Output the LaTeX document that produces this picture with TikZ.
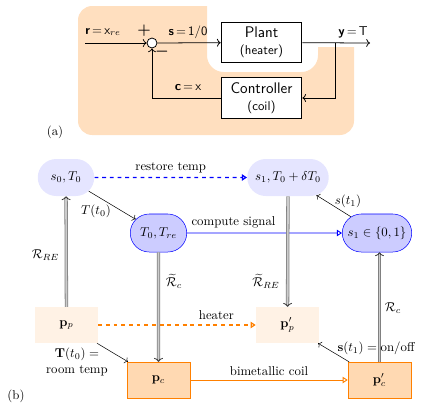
\documentclass[tikz,border=0pt]{standalone}
\usepackage{tikz}
\usetikzlibrary{shapes.misc, arrows.meta}
\usepackage{amsmath}

\begin{document}
\begin{tikzpicture}[
    x=0.78125pt, y=-0.78125pt,
    block/.style={rectangle, draw, line width=0.8pt, fill=white, minimum width=63pt, minimum height=32pt, align=center, font=\sffamily},
    sumnode/.style={circle, draw, line width=0.6pt, fill=white, minimum size=7.8pt, inner sep=0pt},
    signal/.style={font=\sffamily},
    state/.style={rounded rectangle, fill=blue!10, minimum width=50.8pt, minimum height=28.9pt},
    active/.style={state, draw=blue, fill=blue!20, minimum height=29.7pt},
    place/.style={rectangle, fill=orange!10, minimum width=49.2pt, minimum height=28.1pt},
    coilbox/.style={place, draw=orange, fill=orange!30},
    mapto/.style={draw=gray, double=gray!40, double distance=1.4pt, line width=0.6pt, -{To[length=3pt, width=7pt, color=black!80]}},
    opentip/.style={-{Triangle[open, length=4pt, width=5pt]}},
    maplabel/.style={inner sep=1pt}
]
\useasboundingbox (0,0) rectangle (429,409);

% Background of the block diagram
\fill[orange!25] (318,47) -- (354,47) [rounded corners=11pt] -- (354,135) -- (78,135) -- (78,6)
    [sharp corners] -- (207,6) [rounded corners=13pt] -- (207,72) -- (318,72) [sharp corners] -- cycle;

% Block diagram (a)
\node[sumnode] (sum) at (152,43) {};
\node[block] (plant) at (261.5,42.5) {\large Plant\\[1pt](heater)};
\node[block] (ctrl) at (261.5,98) {\large Controller\\[1pt](coil)};
\coordinate (input) at (85,43);
\coordinate (branch) at (335,43);
\coordinate (output) at (370,43);

\draw[line width=0.6pt, ->] (input) -- (sum);
\draw[line width=0.6pt, ->] (sum) -- (plant);
\draw[line width=0.6pt, ->] (plant) -- (output);
\draw[line width=0.6pt, ->] (branch) |- (ctrl);
\draw[line width=0.6pt, ->] (ctrl) -| (sum);

\node[signal] (rlbl) at (103,32) {\textbf{r}\,=\,x$_{re}$};
\node (plus) at (144,31) {\large$\boldsymbol{+}$};
\node (minus) at (162,52) {\large$\boldsymbol{-}$};
\node[signal] (slbl) at (188,32) {\textbf{s}\,=\,1/0};
\node[signal] (ylbl) at (353,32) {\textbf{y}\,=\,T};
\node[signal] (clbl) at (188,88) {\textbf{c}\,=\,x};
\node (alabel) at (55,132) {(a)};

% States
\node[state] (s0) at (66,177.5) {$s_0, T_0$};
\node[state, minimum width=70.3pt] (s1T) at (288,177.5) {$s_1, T_0 + \delta T_0$};
\node[active] (Tre) at (158.5,233) {$T_0, T_{re}$};
\node[active] (s1in) at (377,233) {$s_1 \in \{0,1\}$};

% Physical side
\node[place] (pp) at (66.5,325) {$\mathbf{p}_p$};
\node[place] (ppp) at (287.5,325) {$\mathbf{p}'_p$};
\node[coilbox] (pc) at (158.5,380) {$\mathbf{p}_c$};
\node[coilbox] (pcp) at (379.5,380) {$\mathbf{p}'_c$};

% Edges and annotations
\draw[draw=blue, dashed, line width=1.1pt, opentip] (s0) -- node[above] {restore temp} (s1T);
\draw[draw=blue, line width=0.7pt, opentip] (Tre) -- node[above, pos=0.3] {compute signal} (s1in);
\draw[->] (s0) -- (Tre);
\draw[->] (s1in) -- (s1T);
\draw[draw=orange, dashed, line width=1.1pt, opentip] (pp) -- node[above, pos=0.75] {heater} (ppp);
\draw[draw=orange, line width=0.7pt, opentip] (pc) -- node[above] {bimetallic coil} (pcp);
\draw[->] (pp) -- (pc);
\draw[->] (pcp) -- (ppp);

% Refinement maps
\draw[mapto] (pp) -- (s0);
\draw[mapto] (Tre) -- (pc);
\draw[mapto] (s1T) -- (ppp);
\draw[mapto] (pcp.north) -- (pcp.north |- s1in.south);

\node (lblT0) at (96,211) {$T(t_0)$};
\node (lbls1) at (348,201) {$s(t_1)$};
\node[maplabel] (lblRRE) at (45.5,255) {$\mathcal{R}_{RE}$};
\node[maplabel] (lblRc) at (174,281) {$\widetilde{\mathcal{R}}_c$};
\node[maplabel] (lblRREt) at (266,281) {$\widetilde{\mathcal{R}}_{RE}$};
\node[maplabel] (lblRcp) at (393,308) {$\mathcal{R}_c$};
\node[align=center, inner sep=1pt] (lblroom) at (77,362) {$\mathbf{T}(t_0) =$\\room temp};
\node[inner sep=1pt] (lblon) at (376,348) {$\mathbf{s}(t_1) = \text{on/off}$};
\node (blabel) at (16,396) {(b)};

\end{tikzpicture}
\end{document}
